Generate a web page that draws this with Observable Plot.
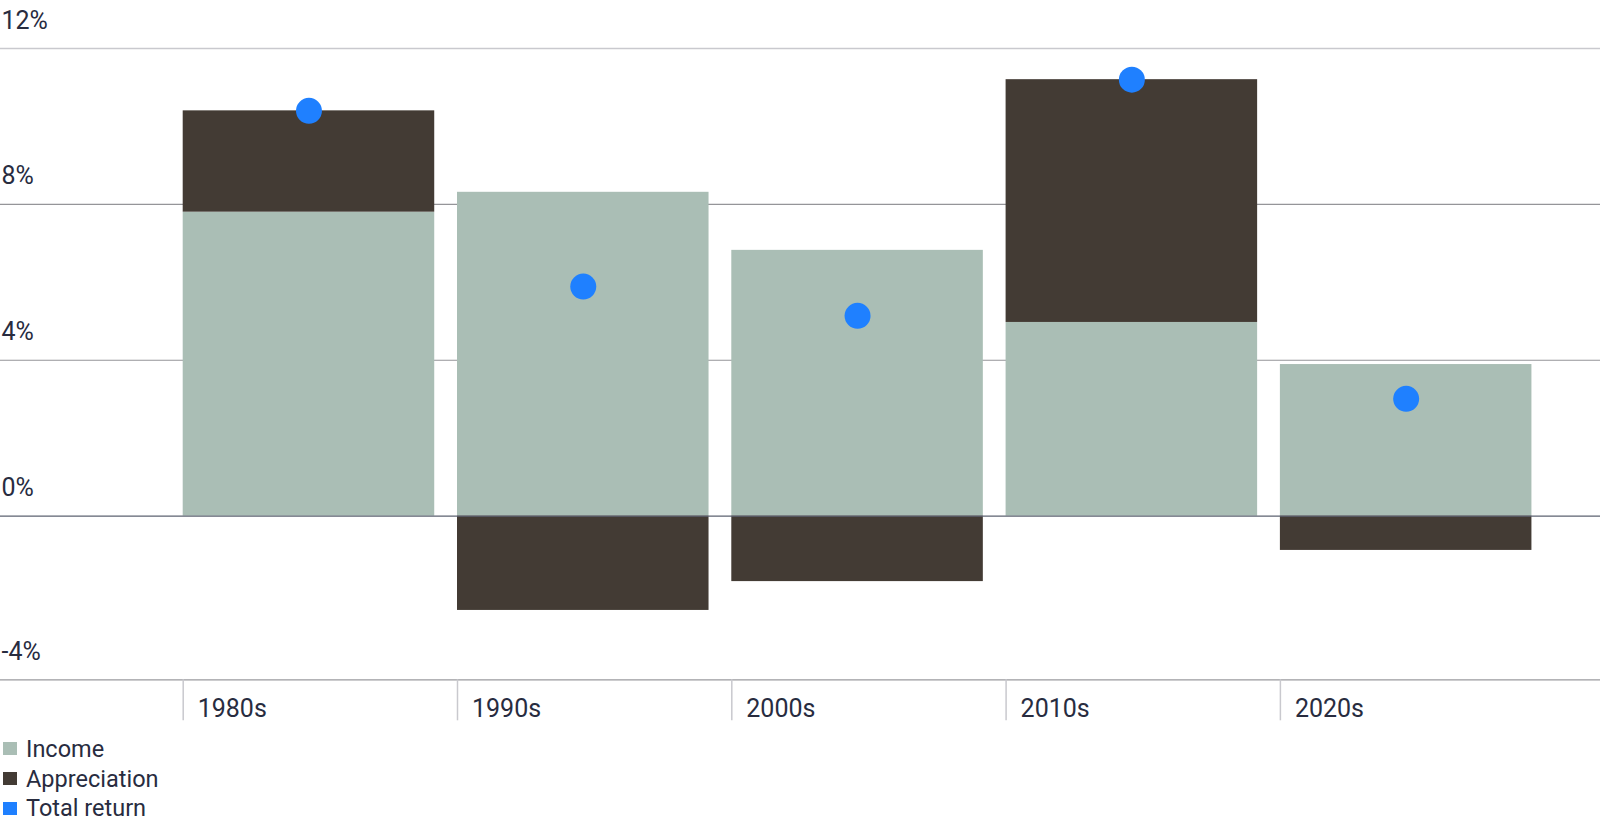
<!DOCTYPE html>
<html>
<head>
<meta charset="utf-8">
<script src="https://cdn.jsdelivr.net/npm/d3@7"></script>
<script src="https://cdn.jsdelivr.net/npm/@observablehq/plot@0.6"></script>
<style>
  html, body { margin: 0; padding: 0; background: #fff; }
  body { width: 1600px; height: 818px; overflow: hidden; font-family: Roboto, "Noto Sans", sans-serif; color: #282c3f; }
  #legend { padding-left: 3px; padding-top: 4px; }
  .row { display: flex; align-items: center; height: 29.7px; font-size: 23.5px; }
  .sw { width: 14px; height: 13px; margin-right: 9px; }
</style>
</head>
<body>
<div id="chart"></div>
<div id="legend"></div>
<script>
const decades = ["1980s", "1990s", "2000s", "2010s", "2020s"];
const income = [7.8, 8.31, 6.82, 4.97, 3.89];
const appreciation = [2.6, -2.42, -1.68, 6.23, -0.88];
const totalReturn = [10.4, 5.89, 5.14, 11.2, 3.01];
const yTicks = [12, 8, 4, 0, -4];
const yTickLabels = ["12%", "8%", "4%", "0%", "-4%"];
const seriesNames = ["Income", "Appreciation", "Total return"];
const seriesColors = ["#aabeb5", "#433b34", "#1f80ff"];

const yMin = -4.2, yMax = 12;

const rows = [];
decades.forEach((d, i) => {
  rows.push({decade: d, series: "Income", value: income[i]});
  rows.push({decade: d, series: "Appreciation", value: appreciation[i]});
});
const totals = decades.map((d, i) => ({decade: d, value: totalReturn[i]}));

const xOpts = {type: "band", domain: decades, range: [182.7, 1600], paddingInner: 0.083, paddingOuter: 0.125, align: 0, round: false};
const bw = Plot.scale({x: xOpts}).bandwidth;

const plot = Plot.plot({
  width: 1600,
  height: 730,
  marginTop: 48,
  marginBottom: 50.7,
  marginLeft: 0,
  marginRight: 0,
  style: {fontFamily: "Roboto, sans-serif", fontSize: "25px", color: "#282c3f", background: "#fff"},
  x: {...xOpts, axis: null, label: null},
  y: {domain: [yMin, yMax], axis: null, label: null},
  color: {domain: seriesNames.slice(0, 2), range: seriesColors.slice(0, 2)},
  marks: [
    Plot.ruleY([yTicks[0]], {stroke: "#c9c9ce", strokeWidth: 1.3}),
    Plot.ruleY(yTicks.slice(1, 3), {stroke: "#959599", strokeWidth: 1.2}),
    Plot.frame({anchor: "bottom", stroke: "#9a9a9e", strokeWidth: 1.3}),
    Plot.barY(rows, {x: "decade", y: "value", fill: "series", order: seriesNames.slice(0, 2)}),
    Plot.ruleY([0], {stroke: "#5c6270", strokeWidth: 1.3}),
    Plot.dot(totals, {x: "decade", y: "value", r: 13, fill: seriesColors[2], stroke: null}),
    Plot.text(yTicks.slice(0, 4), {y: d => d, frameAnchor: "left", text: (d, i) => yTickLabels[i], textAnchor: "start", lineAnchor: "middle", dx: 1, dy: -28, fontSize: 25}),
    Plot.text([yTickLabels[4]], {frameAnchor: "bottom-left", text: d => d, textAnchor: "start", lineAnchor: "middle", dx: 1, dy: -28, fontSize: 25}),
    Plot.axisX({ticks: decades, tickSize: 41, tickFormat: () => "", label: null, dx: -bw / 2, stroke: "#c9c9ce", strokeWidth: 1.5, strokeOpacity: 1}),
    Plot.axisX({ticks: decades, tickSize: 0, tickPadding: 19, label: null, textAnchor: "start", dx: -bw / 2 + 14.5, fontSize: 25})
  ]
});
document.getElementById("chart").appendChild(plot);

const legend = document.getElementById("legend");
seriesNames.forEach((name, i) => {
  const row = document.createElement("div");
  row.className = "row";
  const sw = document.createElement("span");
  sw.className = "sw";
  sw.style.background = seriesColors[i];
  const label = document.createElement("span");
  label.textContent = name;
  row.appendChild(sw);
  row.appendChild(label);
  legend.appendChild(row);
});
</script>
</body>
</html>
